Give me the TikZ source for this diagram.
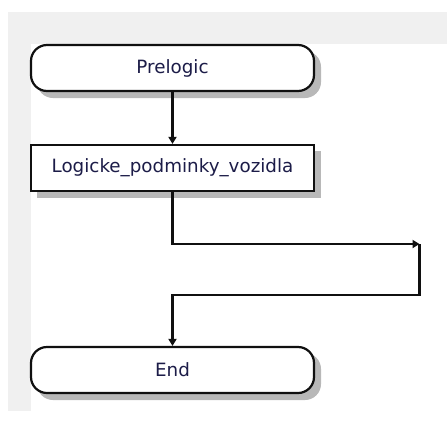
\documentclass[tikz,border=0pt]{standalone}
\usepackage{fontspec}
\setmainfont{DejaVu Sans}
\usetikzlibrary{arrows.meta}
\definecolor{panelgray}{HTML}{F0F0F0}
\definecolor{shadowgray}{HTML}{B8B8B8}
\definecolor{linecol}{HTML}{101010}
\definecolor{textcol}{HTML}{1C1C48}
\tikzset{
  flowbase/.style={draw=linecol, line width=2.2pt, fill=white,
    minimum width=283pt, minimum height=46pt, inner sep=0pt,
    text=textcol, font=\fontsize{18.3}{22}\selectfont},
  terminal/.style={flowbase, rounded corners=16pt},
  process/.style={flowbase},
  flowline/.style={draw=linecol, line width=2.2pt,
    -{Triangle[length=7pt,width=8pt]}},
  boxshadow/.style={fill=shadowgray, draw=none}
}
\begin{document}
\begin{tikzpicture}[x=1pt,y=-1pt]
  \useasboundingbox (0,0) rectangle (447,421);
  % background panels
  \fill[white] (0,0) rectangle (447,421);
  \fill[panelgray] (8,12) rectangle (447,411);
  \fill[white] (31,44) rectangle (447,421);

  % drop shadows behind the blocks
  \path[boxshadow, rounded corners=16pt] (37,51) rectangle (321,98);
  \path[boxshadow] (37,151) rectangle (321,198);
  \path[boxshadow, rounded corners=16pt] (37,353) rectangle (321,400);

  % flowchart blocks
  \node[terminal] (pre) at (172.5,68) {Prelogic};
  \node[process]  (log) at (172.5,168) {Logicke\_podminky\_vozidla};
  \node[terminal] (end) at (172.5,370) {End};

  \coordinate (turn) at (419.5,244);

  % connectors
  \draw[flowline] (pre.south) -- (log.north);
  \draw[flowline] (log.south) |- (turn);
  \draw[flowline] (turn) -- (419.5,295) -| (end.north);
\end{tikzpicture}
\end{document}
